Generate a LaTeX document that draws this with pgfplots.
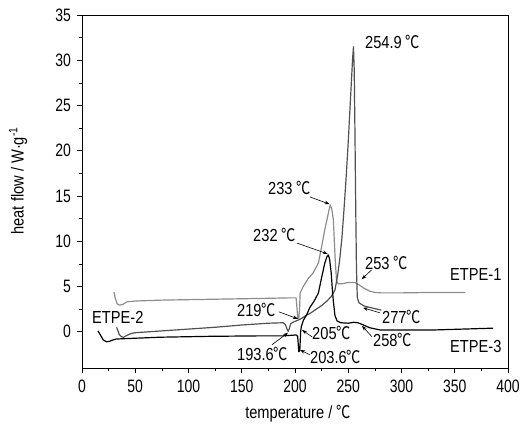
\documentclass[border=0pt]{standalone}
\usepackage{fontspec}
\setmainfont{Liberation Sans}[FakeStretch=0.84]
\newfontfamily\tickfont{Liberation Sans}[FakeStretch=0.78]
\newfontfamily\cjk{Noto Sans CJK SC}[FakeStretch=0.82]
\newcommand\dc{{\cjk ℃}}
\usepackage{pgfplots}
\pgfplotsset{compat=1.18}
\usetikzlibrary{arrows.meta}
\definecolor{lgray}{RGB}{140,140,140}
\definecolor{dgray}{RGB}{80,80,80}
\begin{document}
\fontsize{17.5}{20}\selectfont
\begin{tikzpicture}
\begin{axis}[
  scale only axis, width=426bp, height=353bp,
  xmin=0, xmax=400, ymin=-4, ymax=35,
  xtick={0,50,...,400}, ytick={0,5,...,35},
  minor x tick num=1, minor y tick num=1,
  tick pos=left, tick align=outside,
  major tick length=5bp, minor tick length=3bp,
  every tick/.style={black, line width=0.6pt},
  axis line style={line width=0.7pt},
  /pgf/number format/assume math mode=true,
  tick label style={font=\tickfont\fontsize{18}{20}\selectfont},
  xlabel={temperature / \dc},
  ylabel={heat flow / W·g\textsuperscript{-1}},
  xlabel style={at={(axis description cs:0.507,-0.13)}, anchor=center},
  ylabel style={at={(axis description cs:-0.150,0.53)}, anchor=center},
  xticklabel style={yshift=-1bp},
  every axis plot/.append style={line width=1.2pt, line join=round},
  clip=false,
]
% ETPE-1 (light gray)
\addplot[lgray] coordinates {
(30,4.4) (31,3.8) (33,3.1) (35,2.95) (38,3.0) (42,3.3) (50,3.4) (75,3.5)
(100,3.55) (125,3.6) (150,3.65) (175,3.7) (195,3.75) (201,3.75) (201.6,3.0)
(202.5,1.6) (203.5,1.4) (204.3,2.5) (204.8,4.3) (207.8,5.0) (212.5,5.9)
(217,6.5) (222,7.6) (225,9.4) (228,11.3) (231.3,13.1) (233,14.0) (234.5,13.6)
(236,12.4) (237.6,8.3) (239,5.6) (240.5,5.3) (244,5.3) (250,5.45) (256,5.45)
(260,5.2) (265,4.8) (270,4.5) (275,4.35) (281,4.3) (300,4.3) (330,4.35) (360,4.35)};
% ETPE-2 (dark gray)
\addplot[dgray] coordinates {
(32.5,0.5) (33.5,0.2) (35,-0.3) (37,-0.55) (39,-0.6) (42,-0.4) (46,-0.2)
(50,-0.1) (75,0.1) (100,0.3) (125,0.5) (150,0.75) (175,0.95) (189,1.0)
(191,0.8) (192.5,0.3) (193.6,0.05) (194.5,0.3) (196,0.9) (198,1.05)
(205,1.4) (209,1.7) (215,2.1) (220,2.5) (225,2.9) (230,3.4) (234,3.9)
(237.5,4.6) (240,6.2) (242,8) (244,10.3) (246,13.5) (248,17) (250,21)
(252,25.5) (254,30) (254.9,31.5) (255.6,29) (256.3,22) (257,14) (257.7,7)
(258.5,3.8) (260,3.2) (265,2.85) (270,2.7) (277,2.5) (281,2.4)};
% ETPE-3 (black)
\addplot[black] coordinates {
(15,0.1) (16,-0.1) (17,-0.3) (18.5,-0.6) (20,-0.9) (23,-1.1) (26,-1.05)
(28,-0.95) (32,-0.8) (42,-0.75) (73,-0.6) (120,-0.5) (167,-0.45) (189,-0.45)
(201,-0.35) (202.5,-0.5) (203.6,-2.2) (204.5,-2.1) (205.3,0.0) (206,0.6)
(208,1.3) (211,1.9) (214,2.7) (218,3.4) (222,4.3) (225,6.0) (228,7.6)
(230,8.3) (231.3,8.5) (232.5,8.0) (234,6.5) (235,4.8) (236,3.4) (237.5,1.8)
(239.5,1.2) (243,1.0) (250,0.95) (255,1.05) (259,1.0) (264,0.77) (270,0.45)
(280,0.2) (300,0.2) (330,0.2) (358,0.3) (386,0.4)};
% labels
\node[anchor=west, inner sep=0] at (axis cs:265.7,32.0) {254.9 \dc};
\node[anchor=west, inner sep=0] at (axis cs:174.6,15.9) {233 \dc};
\node[anchor=west, inner sep=0] at (axis cs:160.6,10.7) {232 \dc};
\node[anchor=west, inner sep=0] at (axis cs:265.7,7.6) {253 \dc};
\node[anchor=west, inner sep=0] at (axis cs:145.5,2.4) {219\dc};
\node[anchor=west, inner sep=0] at (axis cs:216,-0.1) {205\dc};
\node[anchor=west, inner sep=0] at (axis cs:145.5,-2.4) {193.6\dc};
\node[anchor=west, inner sep=0] at (axis cs:214,-2.76) {203.6\dc};
\node[anchor=west, inner sep=0] at (axis cs:281.7,1.66) {277\dc};
\node[anchor=west, inner sep=0] at (axis cs:273.2,-0.88) {258\dc};
\node[anchor=west, inner sep=0] at (axis cs:345.5,6.3) {ETPE-1};
\node[anchor=west, inner sep=0] at (axis cs:345.5,-1.65) {ETPE-3};
\node[anchor=west, inner sep=0] at (axis cs:9.4,1.55) {ETPE-2};
% arrows
\begin{scope}[-{Stealth[length=5bp,width=3.5bp]}, line width=0.6pt]
\draw (axis cs:214,14.9) -- (axis cs:232.5,14.1);
\draw (axis cs:201.9,9.8) -- (axis cs:230.8,8.6);
\draw (axis cs:272,6.85) -- (axis cs:262.6,5.8);
\draw (axis cs:185,2.2) -- (axis cs:202.8,1.43);
\draw (axis cs:216,-0.55) -- (axis cs:206.6,0.2);
\draw (axis cs:178.4,-1.43) -- (axis cs:193.4,-0.1);
\draw (axis cs:214,-2.54) -- (axis cs:204.7,-2.0);
\draw (axis cs:279.8,2.1) -- (axis cs:263.8,2.65);
\draw (axis cs:272.3,-0.55) -- (axis cs:262.9,0.66);
\end{scope}
\end{axis}
\pgfresetboundingbox
\path[use as bounding box] (current axis.south west) ++(-82bp,-57bp) rectangle ++(523bp,425bp);
\end{tikzpicture}
\end{document}
